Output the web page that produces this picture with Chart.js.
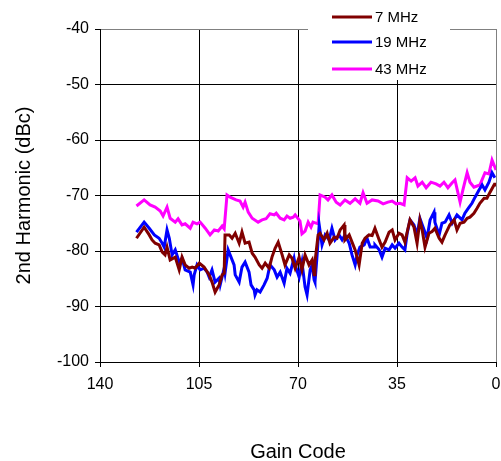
<!DOCTYPE html>
<html>
<head>
<meta charset="utf-8">
<script src="https://cdn.jsdelivr.net/npm/chart.js@4.4.1/dist/chart.umd.min.js"></script>
<style>
  html, body { margin: 0; padding: 0; background: #fff; }
  #wrap { width: 501px; height: 461px; position: relative; }
</style>
</head>
<body>
<div id="wrap"><canvas id="harmChart" width="501" height="461"></canvas></div>
<script>
// gain code -> 2nd harmonic (dBc)
const gain7 = [127.1, 124.4, 122.6, 121.6, 120.5, 119.1, 118.0, 117.0, 116.3, 115.2, 113.4, 112.0, 111.0, 109.9, 108.5, 107.4, 106.4, 104.9, 103.2, 101.4, 100.4, 99.3, 97.9, 96.8, 96.1, 95.8, 94.3, 93.3, 92.2, 90.8, 89.8, 88.7, 87.3, 86.2, 85.2, 83.7, 82.7, 81.6, 80.2, 79.2, 78.1, 77.0, 75.6, 74.6, 73.1, 72.1, 71.0, 69.6, 68.6, 67.5, 66.1, 65.0, 64.3, 64.0, 62.9, 62.2, 60.8, 59.7, 58.7, 57.2, 56.2, 55.1, 53.7, 53.4, 51.9, 50.9, 49.8, 48.4, 47.3, 46.3, 44.9, 43.8, 42.8, 41.3, 40.3, 39.2, 37.8, 36.7, 35.7, 34.3, 33.2, 32.2, 31.1, 30.4, 29.0, 27.9, 26.9, 26.1, 25.1, 23.7, 22.6, 21.6, 20.1, 19.1, 18.0, 16.3, 14.8, 13.8, 12.7, 11.3, 10.2, 9.2, 7.8, 6.7, 5.7, 4.2, 3.2, 2.1, 0.7, 0.4];
const mhz7 = [-77.7, -75.7, -77.1, -78.0, -78.6, -78.9, -80.2, -80.7, -79.3, -81.6, -81.1, -83.4, -81.1, -82.5, -83.1, -82.9, -83.1, -82.2, -82.9, -84.3, -85.6, -87.4, -86.1, -84.3, -84.0, -77.1, -77.1, -77.7, -76.8, -78.6, -76.6, -78.6, -78.4, -80.4, -81.1, -82.5, -83.1, -82.2, -83.1, -81.1, -79.5, -78.4, -80.7, -82.5, -80.7, -81.3, -83.1, -81.1, -83.4, -80.7, -82.5, -81.6, -84.3, -82.0, -77.1, -76.8, -78.0, -76.8, -78.6, -77.5, -77.7, -76.2, -75.3, -78.0, -77.1, -78.4, -79.8, -82.5, -78.6, -77.7, -77.1, -77.2, -75.9, -78.0, -79.3, -78.4, -76.6, -76.2, -78.0, -76.8, -77.1, -78.4, -75.9, -74.4, -75.7, -78.6, -74.4, -76.2, -79.3, -76.8, -76.5, -75.9, -77.7, -78.4, -77.1, -75.3, -74.4, -76.2, -75.0, -74.8, -74.1, -73.9, -73.2, -72.3, -71.4, -70.5, -70.5, -69.4, -68.1, -67.7];

const gain19 = [127.1, 124.4, 122.6, 120.8, 119.1, 118.0, 117.3, 116.3, 115.5, 114.5, 113.4, 112.0, 111.0, 109.9, 108.1, 107.1, 106.7, 105.7, 104.6, 103.2, 102.1, 101.4, 100.4, 99.3, 97.9, 97.5, 96.1, 95.8, 94.7, 94.0, 92.6, 92.2, 90.8, 89.8, 88.7, 87.3, 86.6, 85.5, 85.2, 84.5, 83.4, 82.0, 80.9, 79.9, 78.4, 77.4, 76.3, 74.9, 73.9, 72.8, 71.4, 71.0, 69.6, 68.6, 67.5, 66.8, 65.7, 65.0, 64.3, 64.0, 63.3, 62.5, 61.5, 60.4, 59.0, 58.0, 56.9, 55.5, 54.4, 53.4, 51.9, 50.9, 49.8, 49.1, 48.1, 46.6, 45.6, 44.5, 43.1, 42.8, 41.3, 40.3, 39.2, 37.8, 36.7, 35.7, 34.3, 33.2, 32.2, 31.4, 30.4, 29.0, 27.9, 26.9, 25.4, 24.4, 23.3, 21.9, 21.6, 20.1, 19.1, 18.0, 16.6, 15.5, 13.8, 12.0, 11.0, 9.5, 8.5, 7.4, 6.0, 4.9, 3.9, 2.5, 1.4, 0.4];
const mhz19 = [-76.6, -74.8, -75.9, -77.1, -77.7, -78.6, -79.3, -76.2, -77.7, -80.7, -79.8, -82.0, -81.3, -83.4, -83.8, -86.1, -84.3, -82.5, -83.4, -83.1, -83.8, -84.7, -83.4, -85.6, -84.9, -86.1, -83.1, -84.0, -79.8, -80.7, -82.5, -84.3, -85.6, -82.9, -82.0, -83.8, -86.1, -87.0, -87.9, -87.0, -87.4, -86.1, -84.9, -82.5, -83.4, -84.7, -83.8, -85.8, -83.1, -84.0, -81.3, -82.5, -84.7, -82.0, -86.5, -87.9, -83.4, -82.5, -85.2, -85.6, -81.1, -75.3, -78.9, -77.1, -78.0, -75.9, -78.0, -77.1, -78.0, -77.1, -78.6, -80.7, -82.5, -80.7, -79.3, -78.9, -77.7, -79.3, -79.3, -78.9, -79.8, -81.1, -79.5, -79.8, -78.9, -79.5, -78.6, -79.3, -79.8, -76.8, -74.4, -75.3, -77.1, -74.1, -76.2, -77.7, -74.4, -73.0, -74.8, -77.1, -75.0, -74.8, -73.5, -75.0, -73.5, -74.4, -73.2, -72.1, -71.4, -70.3, -69.0, -68.1, -69.0, -67.6, -65.9, -66.8];

const gain43 = [127.1, 124.4, 122.3, 120.5, 118.7, 117.7, 116.3, 115.2, 113.4, 112.4, 111.0, 109.9, 108.1, 107.1, 105.7, 104.6, 102.8, 101.1, 99.6, 98.2, 96.8, 96.1, 95.1, 94.0, 91.9, 90.5, 89.4, 88.7, 87.6, 86.2, 84.1, 82.7, 81.3, 79.9, 78.4, 77.7, 76.3, 74.9, 73.9, 72.8, 71.7, 71.0, 69.3, 68.6, 67.5, 66.4, 65.4, 64.7, 62.9, 62.2, 60.4, 59.4, 58.0, 56.5, 55.1, 53.4, 51.6, 49.8, 48.1, 47.0, 45.6, 43.8, 41.7, 39.9, 38.2, 36.7, 35.3, 33.9, 32.5, 31.4, 30.0, 28.6, 27.6, 26.1, 24.7, 23.0, 21.2, 19.8, 18.4, 17.0, 15.5, 14.5, 12.7, 11.7, 10.2, 9.2, 7.8, 5.7, 3.9, 2.5, 1.4, 0.0];
const mhz43 = [-71.9, -70.8, -71.7, -72.1, -72.8, -73.7, -72.1, -74.1, -74.8, -74.2, -75.3, -75.1, -75.9, -74.8, -75.1, -74.8, -75.9, -77.1, -76.2, -76.4, -75.5, -76.0, -69.9, -70.3, -70.8, -71.0, -72.1, -71.2, -73.0, -74.1, -74.8, -74.4, -74.2, -73.3, -73.5, -73.2, -74.1, -74.4, -73.7, -74.1, -73.9, -73.5, -74.6, -76.9, -76.4, -74.8, -75.7, -74.8, -75.1, -69.9, -70.3, -70.8, -69.9, -71.2, -71.7, -70.8, -71.4, -70.6, -71.4, -69.5, -71.4, -70.8, -71.0, -71.5, -71.2, -71.0, -71.5, -71.4, -71.7, -66.8, -67.4, -66.8, -68.3, -67.6, -68.6, -67.6, -67.9, -68.3, -67.6, -68.6, -67.7, -67.2, -71.2, -69.0, -65.9, -67.6, -68.5, -68.1, -65.9, -66.1, -63.6, -65.4];

const seriesNames = ['7 MHz', '19 MHz', '43 MHz'];
const seriesColors = ['#800000', '#0000FF', '#FF00FF'];
const yTicks = [-100, -90, -80, -70, -60, -50, -40];
const xTicks = [140, 105, 70, 35, 0];

const FONT = "'Liberation Sans', Arial, sans-serif";

function pairs(xs, ys) {
    return xs.map((x, i) => ({ x: x, y: ys[i] }));
}

// legend sits inside the plot on a white box, like the original
const boxLegend = {
    id: 'boxLegend',
    afterDraw(chart) {
        const ctx = chart.ctx;
        ctx.save();
        ctx.fillStyle = '#fff';
        ctx.fillRect(308, 0, 142, 80);
        const rows = [17, 42, 69];
        chart.data.datasets.forEach((ds, i) => {
            ctx.strokeStyle = ds.borderColor;
            ctx.lineWidth = 3;
            ctx.beginPath();
            ctx.moveTo(332, rows[i]);
            ctx.lineTo(372, rows[i]);
            ctx.stroke();
            ctx.fillStyle = '#000';
            ctx.font = '15px ' + FONT;
            ctx.textBaseline = 'middle';
            ctx.textAlign = 'left';
            ctx.fillText(ds.label, 375, rows[i] + 1);
        });
        ctx.restore();
    }
};

const ctx = document.getElementById('harmChart').getContext('2d');
new Chart(ctx, {
    type: 'line',
    data: {
        datasets: [
            { label: seriesNames[0], data: pairs(gain7, mhz7), borderColor: seriesColors[0] },
            { label: seriesNames[1], data: pairs(gain19, mhz19), borderColor: seriesColors[1] },
            { label: seriesNames[2], data: pairs(gain43, mhz43), borderColor: seriesColors[2] }
        ]
    },
    options: {
        responsive: false,
        animation: false,
        layout: { padding: { top: 29, right: 5, bottom: 0, left: 0 } },
        elements: {
            line: { borderWidth: 3, tension: 0, fill: false },
            point: { radius: 0 }
        },
        plugins: { legend: { display: false }, tooltip: { enabled: false } },
        scales: {
            x: {
                type: 'linear',
                reverse: true,
                min: 0, max: 140,
                afterBuildTicks: s => { s.ticks = xTicks.map(v => ({ value: v })); },
                afterFit: s => { s.height = 99; s.paddingLeft = 0; s.paddingRight = 0; },
                ticks: { color: '#000', font: { family: FONT, size: 16 }, padding: 8, maxRotation: 0 },
                grid: {
                    color: c => (c.tick && c.tick.value === 0 ? '#808080' : '#000'),
                    tickColor: '#000', tickLength: 5, lineWidth: 1
                },
                border: { color: '#000', width: 1 },
                title: { display: true, text: 'Gain Code', color: '#000', font: { family: FONT, size: 20 }, padding: { bottom: -3 } }
            },
            y: {
                min: -100, max: -40,
                afterBuildTicks: s => { s.ticks = yTicks.map(v => ({ value: v })); },
                afterFit: s => { s.width = 100; s.paddingTop = 0; s.paddingBottom = 0; },
                ticks: { color: '#000', font: { family: FONT, size: 16 }, padding: 6 },
                grid: {
                    color: c => (c.tick && c.tick.value === -40 ? '#808080' : '#000'),
                    tickColor: '#000', tickLength: 5, lineWidth: 1
                },
                border: { color: '#000', width: 1 },
                title: { display: true, text: '2nd Harmonic (dBc)', color: '#000', font: { family: FONT, size: 20 }, padding: { top: 12 } }
            }
        }
    },
    plugins: [boxLegend]
});
</script>
</body>
</html>
